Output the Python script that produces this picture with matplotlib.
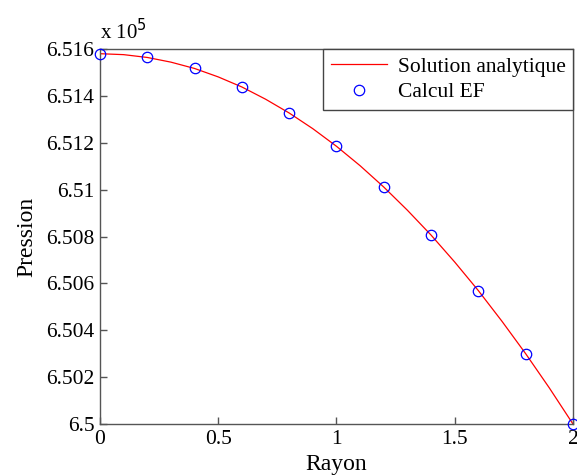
import matplotlib
matplotlib.use("Agg")
import matplotlib.pyplot as plt

# Rayon / Pression (x 10^5)
rayon_ana = [0.0, 0.1, 0.2, 0.3, 0.4, 0.5, 0.6, 0.7, 0.8, 0.9, 1.0,
             1.1, 1.2, 1.3, 1.4, 1.5, 1.6, 1.7, 1.8, 1.9, 2.0]
p_ana = [6.5158, 6.51576, 6.51564, 6.51544, 6.51517, 6.51481, 6.51438,
         6.51386, 6.51327, 6.51260, 6.51185, 6.51102, 6.51011, 6.50912,
         6.50806, 6.50691, 6.50569, 6.50438, 6.50300, 6.50154, 6.50000]

rayon_ef = [0.0, 0.2, 0.4, 0.6, 0.8, 1.0, 1.2, 1.4, 1.6, 1.8, 2.0]
p_ef = [6.5158, 6.51564, 6.51517, 6.51438, 6.51327, 6.51185,
        6.51011, 6.50806, 6.50569, 6.50300, 6.50000]

xticks = [0, 0.5, 1, 1.5, 2]
xlabels = ["0", "0.5", "1", "1.5", "2"]
yticks = [6.5, 6.502, 6.504, 6.506, 6.508, 6.51, 6.512, 6.514, 6.516]
ylabels = ["6.5", "6.502", "6.504", "6.506", "6.508", "6.51", "6.512", "6.514", "6.516"]

plt.rcParams['font.family'] = ['Liberation Serif', 'DejaVu Serif']
plt.rcParams['font.size'] = 15.5

fig = plt.figure(figsize=(5.77, 4.75), dpi=100)
ax = fig.add_axes([0.1733, 0.1074, 0.8197, 0.7894])

ax.plot(rayon_ana, p_ana, color="red", lw=0.9, label="Solution analytique")
ax.plot(rayon_ef, p_ef, ls="none", marker="o", ms=7.5, mfc="none", mec="blue",
        mew=0.9, label="Calcul EF", clip_on=False, zorder=3)

ax.set_xlim(0, 2)
ax.set_ylim(6.5, 6.516)
ax.set_xticks(xticks)
ax.set_xticklabels(xlabels)
ax.set_yticks(yticks)
ax.set_yticklabels(ylabels)
ax.tick_params(direction="in", length=5, width=1, color="#555555", pad=4)
for s in ax.spines.values():
    s.set_color("#555555")
    s.set_linewidth(1)

ax.set_xlabel("Rayon", labelpad=4, fontsize=17)
ax.set_ylabel("Pression", labelpad=6, fontsize=17)
ax.text(0.0, 1.012, r"x 10$^{5}$", transform=ax.transAxes, fontsize=15,
        ha="left", va="bottom")

leg = ax.legend(loc="upper right", fancybox=False, framealpha=1,
                edgecolor="#444444", borderaxespad=0, handlelength=2.6,
                borderpad=0.35, labelspacing=0.25, handletextpad=0.5)
leg.get_frame().set_linewidth(1)

fig.savefig("out.png", dpi=100)
